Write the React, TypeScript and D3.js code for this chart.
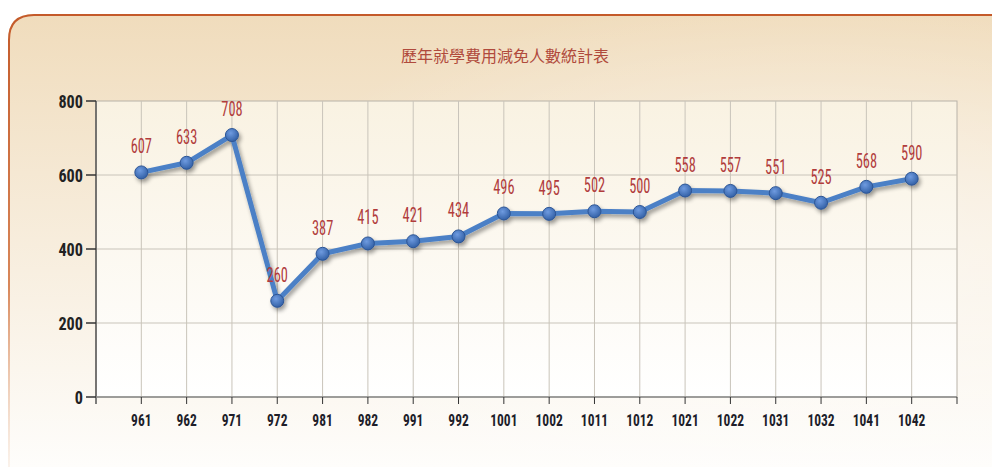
import React from "react";
import * as d3 from "d3";

const categories = ["961","962","971","972","981","982","991","992","1001","1002","1011","1012","1021","1022","1031","1032","1041","1042"];
const values = [607,633,708,260,387,415,421,434,496,495,502,500,558,557,551,525,568,590];
const yTicks = [0,200,400,600,800];
const title = "歷年就學費用減免人數統計表";

const W = 992, H = 467;
const left = 96, right = 957, top = 101, bottom = 397;
const cond = "'Roboto Condensed', 'Liberation Sans Narrow', 'DejaVu Sans Condensed', Arial, sans-serif";

export default function App() {
  const x = d3.scaleLinear().domain([0, categories.length + 1]).range([left, right]);
  const y = d3.scaleLinear().domain([0, 800]).range([bottom, top]);
  const pts: [number, number][] = values.map((v, i) => [x(i + 1), y(v)]);
  const line = d3.line()(pts) || "";
  return (
    <svg width={W} height={H} style={{ position: "absolute", left: 0, top: 0, display: "block" }}>
      <defs>
        <linearGradient id="bg" x1="0" y1="0" x2="0" y2="1">
          <stop offset="0" stopColor="#f0dcbc" />
          <stop offset="0.35" stopColor="#f5e8d3" />
          <stop offset="1" stopColor="#fefdfb" />
        </linearGradient>
        <radialGradient id="glow" cx="0.82" cy="0.55" r="0.6">
          <stop offset="0" stopColor="#ffffff" stopOpacity="0.55" />
          <stop offset="1" stopColor="#ffffff" stopOpacity="0" />
        </radialGradient>
        <linearGradient id="plotbg" x1="0" y1="0" x2="0" y2="1">
          <stop offset="0" stopColor="#f9f2e2" />
          <stop offset="1" stopColor="#ffffff" />
        </linearGradient>
        <linearGradient id="border" x1="0" y1="0" x2="0" y2="1">
          <stop offset="0" stopColor="#c45a2a" />
          <stop offset="0.6" stopColor="#d8875a" />
          <stop offset="1" stopColor="#f3d9c6" stopOpacity="0.3" />
        </linearGradient>
        <filter id="shadow" x="-5%" y="-20%" width="110%" height="140%">
          <feGaussianBlur in="SourceAlpha" stdDeviation="2" />
          <feOffset dx="2" dy="3" result="ob" />
          <feComponentTransfer><feFuncA type="linear" slope="0.4" /></feComponentTransfer>
          <feMerge><feMergeNode /><feMergeNode in="SourceGraphic" /></feMerge>
        </filter>
        <radialGradient id="dot" cx="0.4" cy="0.35" r="0.7">
          <stop offset="0" stopColor="#6f9be0" />
          <stop offset="1" stopColor="#2f5da3" />
        </radialGradient>
      </defs>
      <rect x={0} y={0} width={W} height={H} fill="#ffffff" />
      <path d={`M8,${H} L8,40 Q8,14 34,14 L${W},14 L${W},${H} Z`} fill="url(#bg)" />
      <path d={`M8,${H} L8,40 Q8,14 34,14 L${W},14 L${W},${H} Z`} fill="url(#glow)" />
      <path d={`M9,${H} L9,40 Q9,15 34,15 L${W},15`} fill="none" stroke="url(#border)" strokeWidth={2} />
      <text x={505} y={62} textAnchor="middle" fontFamily="'Noto Sans CJK TC', sans-serif" fontSize={16} fill="#b04a3c">{title}</text>
      <rect x={left} y={top} width={right - left} height={bottom - top} fill="url(#plotbg)" stroke="#b8b2a8" strokeWidth={1} />
      {yTicks.slice(1, -1).map(t => (
        <line key={"h" + t} x1={left} x2={right} y1={y(t)} y2={y(t)} stroke="#c9c4ba" strokeWidth={1} />
      ))}
      {categories.map((c, i) => (
        <line key={"v" + c} x1={x(i + 1)} x2={x(i + 1)} y1={top} y2={bottom} stroke="#c9c4ba" strokeWidth={1} />
      ))}
      <line x1={left} x2={left} y1={top} y2={bottom + 7} stroke="#555" strokeWidth={1.5} />
      <line x1={left} x2={right} y1={bottom} y2={bottom} stroke="#888" strokeWidth={1.5} />
      <line x1={right} x2={right} y1={bottom} y2={bottom + 7} stroke="#333" strokeWidth={1} />
      {categories.map((c, i) => (
        <g key={"xt" + c}>
          <line x1={x(i + 1)} x2={x(i + 1)} y1={bottom} y2={bottom + 7} stroke="#333" strokeWidth={1} />
          <text transform={`translate(${x(i + 1)},${bottom + 29}) scale(0.9,1.15)`} textAnchor="middle" fontFamily={cond} fontWeight="bold" fontSize={15} fill="#1e1e2a">{c}</text>
        </g>
      ))}
      {yTicks.map(t => (
        <g key={"yt" + t}>
          <line x1={left - 10} x2={left} y1={y(t)} y2={y(t)} stroke="#333" strokeWidth={1.5} />
          <text transform={`translate(${left - 13},${y(t) + 6.5}) scale(0.9,1.05)`} textAnchor="end" fontFamily={cond} fontWeight="bold" fontSize={18} fill="#222">{t}</text>
        </g>
      ))}
      <g filter="url(#shadow)">
        <path d={line} fill="none" stroke="#4c80c6" strokeWidth={5} strokeLinejoin="round" />
        {pts.map((p, i) => (
          <circle key={"p" + i} cx={p[0]} cy={p[1]} r={6.5} fill="url(#dot)" stroke="#2c5595" strokeWidth={1} />
        ))}
      </g>
      {pts.map((p, i) => (
        <text key={"l" + i} transform={`translate(${p[0]},${p[1] - 19}) scale(0.9,1.3)`} textAnchor="middle" fontFamily={cond} fontSize={16} fill="#b13c3c">{values[i]}</text>
      ))}
    </svg>
  );
}
